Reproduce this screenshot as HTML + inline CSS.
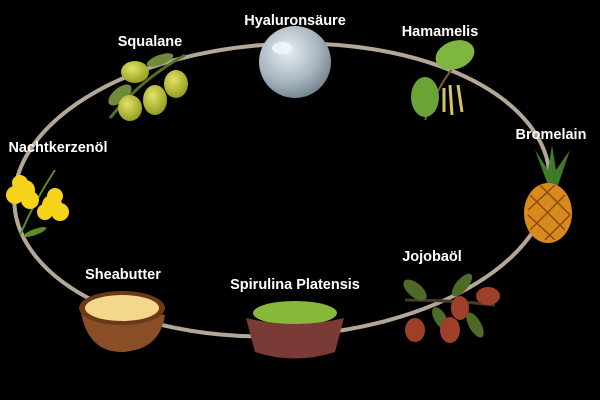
<!DOCTYPE html>
<html><head><meta charset="utf-8"><style>
html,body{margin:0;padding:0;background:#000;width:600px;height:400px;overflow:hidden}
svg{display:block}
text{font-family:"Liberation Sans",sans-serif;font-weight:bold;fill:#fff;font-size:14.5px;text-anchor:middle}
</style></head><body>
<svg width="600" height="400" viewBox="0 0 600 400">
<defs>
<radialGradient id="bub" cx="0.4" cy="0.35" r="0.7"><stop offset="0" stop-color="#e8eef2"/><stop offset="0.6" stop-color="#a9b7c1"/><stop offset="1" stop-color="#6f808c"/></radialGradient>
<radialGradient id="ol" cx="0.4" cy="0.35" r="0.7"><stop offset="0" stop-color="#e3e36a"/><stop offset="1" stop-color="#8f9a18"/></radialGradient>
</defs>
<ellipse cx="282" cy="190" rx="268" ry="146" transform="rotate(-3 282 190)" fill="none" stroke="#b3a797" stroke-width="4"/>
<!-- bubble -->
<circle cx="295" cy="62" r="36" fill="url(#bub)"/>
<ellipse cx="282" cy="48" rx="10" ry="6" fill="#f4f8fb" opacity="0.8"/>
<!-- olives -->
<path d="M110 118 Q140 80 185 55" stroke="#5a6b2a" stroke-width="3" fill="none"/>
<ellipse cx="120" cy="95" rx="14" ry="7" fill="#6f8a3a" transform="rotate(-40 120 95)"/>
<ellipse cx="160" cy="60" rx="14" ry="5" fill="#6f8a3a" transform="rotate(-20 160 60)"/>
<ellipse cx="135" cy="72" rx="14" ry="11" fill="url(#ol)"/>
<ellipse cx="176" cy="84" rx="12" ry="14" fill="url(#ol)"/>
<ellipse cx="155" cy="100" rx="12" ry="15" fill="url(#ol)"/>
<ellipse cx="130" cy="108" rx="12" ry="13" fill="url(#ol)"/>
<!-- hamamelis -->
<path d="M425 120 Q440 80 460 60" stroke="#7a5a3a" stroke-width="2" fill="none"/>
<ellipse cx="455" cy="55" rx="20" ry="14" fill="#7fb640" transform="rotate(-20 455 55)"/>
<ellipse cx="425" cy="97" rx="14" ry="20" fill="#6aa336"/>
<path d="M450 85 L452 115 M458 85 L462 112 M444 88 L444 112" stroke="#d6c26a" stroke-width="3"/>
<!-- pineapple -->
<path d="M548 185 L535 150 L548 170 L552 145 L556 170 L570 150 L558 185 Z" fill="#3f7a2a"/>
<ellipse cx="548" cy="213" rx="24" ry="30" fill="#d88a1e"/>
<path d="M530 195 L565 230 M528 215 L555 240 M540 185 L570 215 M565 195 L530 230 M570 215 L545 240 M555 185 L528 210" stroke="#8a4a10" stroke-width="1.5"/>
<!-- flowers -->
<path d="M20 235 Q35 200 55 170" stroke="#5f8a2a" stroke-width="2" fill="none"/>
<g fill="#f6d31a"><circle cx="25" cy="190" r="10"/><circle cx="15" cy="195" r="9"/><circle cx="30" cy="200" r="9"/><circle cx="20" cy="183" r="8"/><circle cx="52" cy="205" r="10"/><circle cx="60" cy="212" r="9"/><circle cx="45" cy="212" r="8"/><circle cx="55" cy="196" r="8"/></g>
<ellipse cx="35" cy="232" rx="12" ry="3" fill="#5f8a2a" transform="rotate(-20 35 232)"/>
<!-- jojoba -->
<path d="M405 300 Q450 300 495 305" stroke="#4a3a28" stroke-width="3" fill="none"/>
<g fill="#4f6a26"><ellipse cx="415" cy="290" rx="14" ry="7" transform="rotate(40 415 290)"/><ellipse cx="462" cy="285" rx="14" ry="6" transform="rotate(-50 462 285)"/><ellipse cx="475" cy="325" rx="14" ry="6" transform="rotate(60 475 325)"/><ellipse cx="440" cy="318" rx="12" ry="6" transform="rotate(60 440 318)"/></g>
<g fill="#9e3f2a"><ellipse cx="415" cy="330" rx="10" ry="12"/><ellipse cx="450" cy="330" rx="10" ry="13"/><ellipse cx="460" cy="308" rx="9" ry="12"/><ellipse cx="488" cy="296" rx="12" ry="9"/></g>
<!-- sheabutter -->
<path d="M80 305 Q85 352 122 352 Q160 350 165 315 Z" fill="#8a4e26"/>
<ellipse cx="122" cy="308" rx="43" ry="17" fill="#6b3818"/>
<ellipse cx="122" cy="308" rx="37" ry="13" fill="#f2d78c"/>
<!-- spirulina -->
<ellipse cx="295" cy="313" rx="42" ry="12" fill="#86b83a"/>
<path d="M246 318 L255 352 Q295 365 335 352 L344 318 Q295 330 246 318 Z" fill="#7a3a35"/>
<text x="295" y="25">Hyaluronsäure</text>
<text x="150" y="46">Squalane</text>
<text x="440" y="36">Hamamelis</text>
<text x="551" y="139">Bromelain</text>
<text x="58" y="152">Nachtkerzenöl</text>
<text x="432" y="261">Jojobaöl</text>
<text x="123" y="279">Sheabutter</text>
<text x="295" y="289">Spirulina Platensis</text>
</svg>
</body></html>
